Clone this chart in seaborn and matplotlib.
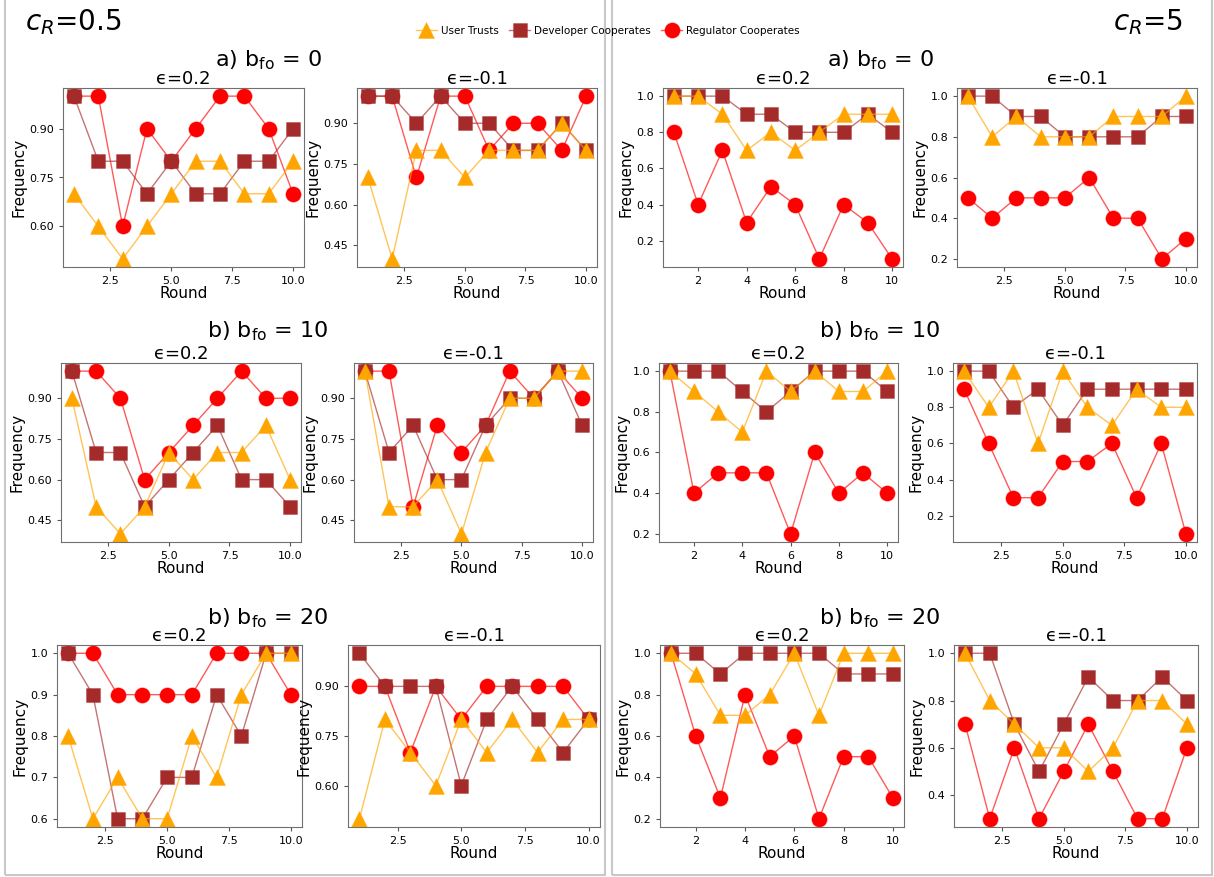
import seaborn as sns
import pandas as pd
import matplotlib.pyplot as plt
from matplotlib.patches import Rectangle
from matplotlib.colors import to_rgb

rounds = list(range(1, 11))

# c_R = 0.5
user_a0_pos = [0.7, 0.6, 0.5, 0.6, 0.7, 0.8, 0.8, 0.7, 0.7, 0.8]
dev_a0_pos = [1.0, 0.8, 0.8, 0.7, 0.8, 0.7, 0.7, 0.8, 0.8, 0.9]
reg_a0_pos = [1.0, 1.0, 0.6, 0.9, 0.8, 0.9, 1.0, 1.0, 0.9, 0.7]
user_a0_neg = [0.7, 0.4, 0.8, 0.8, 0.7, 0.8, 0.8, 0.8, 0.9, 0.8]
dev_a0_neg = [1.0, 1.0, 0.9, 1.0, 0.9, 0.9, 0.8, 0.8, 0.9, 0.8]
reg_a0_neg = [1.0, 1.0, 0.7, 1.0, 1.0, 0.8, 0.9, 0.9, 0.8, 1.0]
user_a10_pos = [0.9, 0.5, 0.4, 0.5, 0.7, 0.6, 0.7, 0.7, 0.8, 0.6]
dev_a10_pos = [1.0, 0.7, 0.7, 0.5, 0.6, 0.7, 0.8, 0.6, 0.6, 0.5]
reg_a10_pos = [1.0, 1.0, 0.9, 0.6, 0.7, 0.8, 0.9, 1.0, 0.9, 0.9]
user_a10_neg = [1.0, 0.5, 0.5, 0.6, 0.4, 0.7, 0.9, 0.9, 1.0, 1.0]
dev_a10_neg = [1.0, 0.7, 0.8, 0.6, 0.6, 0.8, 0.9, 0.9, 1.0, 0.8]
reg_a10_neg = [1.0, 1.0, 0.5, 0.8, 0.7, 0.8, 1.0, 0.9, 1.0, 0.9]
user_a20_pos = [0.8, 0.6, 0.7, 0.6, 0.6, 0.8, 0.7, 0.9, 1.0, 1.0]
dev_a20_pos = [1.0, 0.9, 0.6, 0.6, 0.7, 0.7, 0.9, 0.8, 1.0, 1.0]
reg_a20_pos = [1.0, 1.0, 0.9, 0.9, 0.9, 0.9, 1.0, 1.0, 1.0, 0.9]
user_a20_neg = [0.5, 0.8, 0.7, 0.6, 0.8, 0.7, 0.8, 0.7, 0.8, 0.8]
dev_a20_neg = [1.0, 0.9, 0.9, 0.9, 0.6, 0.8, 0.9, 0.8, 0.7, 0.8]
reg_a20_neg = [0.9, 0.9, 0.7, 0.9, 0.8, 0.9, 0.9, 0.9, 0.9, 0.8]

# c_R = 5
user_b0_pos = [1.0, 1.0, 0.9, 0.7, 0.8, 0.7, 0.8, 0.9, 0.9, 0.9]
dev_b0_pos = [1.0, 1.0, 1.0, 0.9, 0.9, 0.8, 0.8, 0.8, 0.9, 0.8]
reg_b0_pos = [0.8, 0.4, 0.7, 0.3, 0.5, 0.4, 0.1, 0.4, 0.3, 0.1]
user_b0_neg = [1.0, 0.8, 0.9, 0.8, 0.8, 0.8, 0.9, 0.9, 0.9, 1.0]
dev_b0_neg = [1.0, 1.0, 0.9, 0.9, 0.8, 0.8, 0.8, 0.8, 0.9, 0.9]
reg_b0_neg = [0.5, 0.4, 0.5, 0.5, 0.5, 0.6, 0.4, 0.4, 0.2, 0.3]
user_b10_pos = [1.0, 0.9, 0.8, 0.7, 1.0, 0.9, 1.0, 0.9, 0.9, 1.0]
dev_b10_pos = [1.0, 1.0, 1.0, 0.9, 0.8, 0.9, 1.0, 1.0, 1.0, 0.9]
reg_b10_pos = [1.0, 0.4, 0.5, 0.5, 0.5, 0.2, 0.6, 0.4, 0.5, 0.4]
user_b10_neg = [1.0, 0.8, 1.0, 0.6, 1.0, 0.8, 0.7, 0.9, 0.8, 0.8]
dev_b10_neg = [1.0, 1.0, 0.8, 0.9, 0.7, 0.9, 0.9, 0.9, 0.9, 0.9]
reg_b10_neg = [0.9, 0.6, 0.3, 0.3, 0.5, 0.5, 0.6, 0.3, 0.6, 0.1]
user_b20_pos = [1.0, 0.9, 0.7, 0.7, 0.8, 1.0, 0.7, 1.0, 1.0, 1.0]
dev_b20_pos = [1.0, 1.0, 0.9, 1.0, 1.0, 1.0, 1.0, 0.9, 0.9, 0.9]
reg_b20_pos = [1.0, 0.6, 0.3, 0.8, 0.5, 0.6, 0.2, 0.5, 0.5, 0.3]
user_b20_neg = [1.0, 0.8, 0.7, 0.6, 0.6, 0.5, 0.6, 0.8, 0.8, 0.7]
dev_b20_neg = [1.0, 1.0, 0.7, 0.5, 0.7, 0.9, 0.8, 0.8, 0.9, 0.8]
reg_b20_neg = [0.7, 0.3, 0.6, 0.3, 0.5, 0.7, 0.5, 0.3, 0.3, 0.6]

series_labels = ['User Trusts', 'Developer Cooperates', 'Regulator Cooperates']
eps_titles = ['\u03f5=0.2', '\u03f5=-0.1']
row_titles = [r'a) $\mathrm{b_{fo}}$ = 0', r'b) $\mathrm{b_{fo}}$ = 10', r'b) $\mathrm{b_{fo}}$ = 20']
cr_titles = [r'$c_R$=0.5', r'$c_R$=5']

t015 = [0.45, 0.60, 0.75, 0.90]
t02 = [0.2, 0.4, 0.6, 0.8, 1.0]
x25 = [2.5, 5.0, 7.5, 10.0]
x2 = [2, 4, 6, 8, 10]

# (user, dev, reg, title, yticks, xticks, pixel box l, t, r, b)
panels = [
    (user_a0_pos, dev_a0_pos, reg_a0_pos, 0, [0.60, 0.75, 0.90], x25, (63, 88, 304, 267)),
    (user_a0_neg, dev_a0_neg, reg_a0_neg, 1, t015, x25, (357, 88, 597, 267)),
    (user_b0_pos, dev_b0_pos, reg_b0_pos, 0, t02, x2, (663, 88, 903, 267)),
    (user_b0_neg, dev_b0_neg, reg_b0_neg, 1, t02, x25, (957, 88, 1197, 267)),
    (user_a10_pos, dev_a10_pos, reg_a10_pos, 0, t015, x25, (61, 363, 301, 542)),
    (user_a10_neg, dev_a10_neg, reg_a10_neg, 1, t015, x25, (354, 363, 593, 542)),
    (user_b10_pos, dev_b10_pos, reg_b10_pos, 0, t02, x2, (659, 363, 898, 542)),
    (user_b10_neg, dev_b10_neg, reg_b10_neg, 1, t02, x25, (953, 363, 1197, 542)),
    (user_a20_pos, dev_a20_pos, reg_a20_pos, 0, [0.6, 0.7, 0.8, 0.9, 1.0], x25, (57, 645, 302, 827)),
    (user_a20_neg, dev_a20_neg, reg_a20_neg, 1, [0.60, 0.75, 0.90], x25, (348, 645, 600, 827)),
    (user_b20_pos, dev_b20_pos, reg_b20_pos, 0, t02, x2, (660, 645, 904, 827)),
    (user_b20_neg, dev_b20_neg, reg_b20_neg, 1, [0.4, 0.6, 0.8, 1.0], x25, (954, 645, 1198, 827)),
]

W, H = 1214, 877
fig = plt.figure(figsize=(W / 100, H / 100), dpi=100)

# grey frames around the two halves
fig.patches.append(Rectangle((5 / W, 2 / H), 600 / W, 880 / H, transform=fig.transFigure,
                             fill=False, edgecolor='#c8c8c8', lw=1.5))
fig.patches.append(Rectangle((612 / W, 2 / H), 600 / W, 880 / H, transform=fig.transFigure,
                             fill=False, edgecolor='#c8c8c8', lw=1.5))

handles = None
for user, dev, reg, ti, yt, xt, (l, t, r, b) in panels:
    ax = fig.add_axes([l / W, 1 - b / H, (r - l) / W, (b - t) / H])
    df = pd.DataFrame({'Round': rounds, 'user': user, 'dev': dev, 'reg': reg})
    # regulator drawn first, user last (user on top)
    sns.lineplot(data=df, x='Round', y='reg', ax=ax, color='red', marker='o',
                 markersize=11, lw=1, errorbar=None)
    sns.lineplot(data=df, x='Round', y='dev', ax=ax, color='brown', marker='s',
                 markersize=10, lw=1, errorbar=None)
    sns.lineplot(data=df, x='Round', y='user', ax=ax, color='orange', marker='^',
                 markersize=11, lw=1, errorbar=None)
    # lighter connecting lines, solid markers
    for ln in ax.get_lines():
        c = to_rgb(ln.get_color())
        ln.set_markerfacecolor(c)
        ln.set_markeredgecolor((*c, 0.35))
        ln.set_color((*c, 0.65))
    ax.set_yticks(yt)
    ax.set_xticks(xt)
    ax.tick_params(labelsize=8, length=3, color='#555555')
    ax.set_xlabel('Round', fontsize=11, labelpad=0)
    ax.set_ylabel('Frequency', fontsize=11, labelpad=2)
    ax.set_title(eps_titles[ti], fontsize=13, pad=1)
    for s in ax.spines.values():
        s.set_color('#707070')
    if handles is None:
        lines = ax.get_lines()
        handles = [lines[2], lines[1], lines[0]]

# row titles
for i, y in enumerate([60, 331, 618]):
    fig.text(268 / W, 1 - y / H, row_titles[i], fontsize=16, ha='center', va='center')
    fig.text(880 / W, 1 - y / H, row_titles[i], fontsize=16, ha='center', va='center')

fig.text(25 / W, 1 - 22 / H, cr_titles[0], fontsize=20, ha='left', va='center')
fig.text(1183 / W, 1 - 22 / H, cr_titles[1], fontsize=20, ha='right', va='center')

fig.legend(handles, series_labels, loc='center', bbox_to_anchor=(608 / W, 1 - 31 / H),
           ncol=3, fontsize=7.5, frameon=False, columnspacing=1.0, handletextpad=0.4)

fig.savefig('out.png', dpi=100)
